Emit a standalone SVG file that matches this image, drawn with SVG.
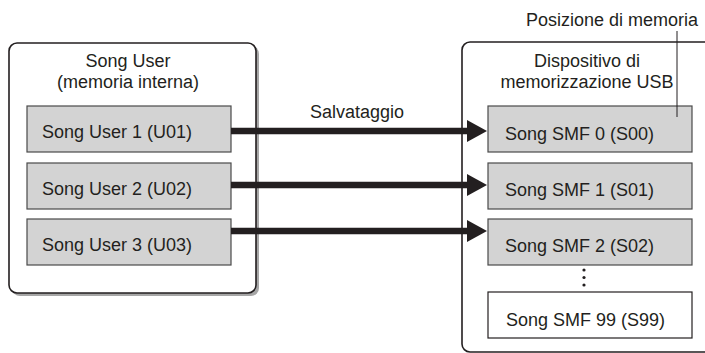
<svg xmlns="http://www.w3.org/2000/svg" width="705" height="353" viewBox="0 0 705 353">
<defs>
<style>
text{font-family:"Liberation Sans",Arial,sans-serif;font-size:18px;fill:#231f20}
.c{text-anchor:middle}
.cont{fill:#fff;stroke:#231f20;stroke-width:1.6}
.shadow{fill:#a6a6a6}
.g{fill:#d3d3d3;stroke:#4a4a4a;stroke-width:1.2}
.w{fill:#fff;stroke:#231f20;stroke-width:1.2}
.arr{stroke:#231f20;stroke-width:6.3;fill:none;marker-end:url(#ah)}
</style>
<marker id="ah" markerUnits="userSpaceOnUse" viewBox="0 0 20 22" refX="3" refY="11" markerWidth="20" markerHeight="22" orient="auto">
<path d="M0,0 L20,11 L0,22 z" fill="#231f20"/>
</marker>
</defs>
<rect width="705" height="353" fill="#fff"/>
<g id="song-user">
<rect class="shadow" x="12" y="46" width="247" height="250" rx="8"/>
<rect class="cont" x="9" y="43" width="247" height="250" rx="8"/>
<text class="c" x="128" y="67">Song User</text>
<text class="c" x="128" y="88">(memoria interna)</text>
</g>
<g id="u01"><rect class="g" x="27" y="106" width="204" height="46"/><text x="42" y="138">Song User 1 (U01)</text></g>
<g id="u02"><rect class="g" x="27" y="163" width="204" height="46"/><text x="42" y="195">Song User 2 (U02)</text></g>
<g id="u03"><rect class="g" x="27" y="219" width="204" height="46"/><text x="42" y="251">Song User 3 (U03)</text></g>
<g id="usb">
<rect class="cont" x="462" y="42" width="300" height="310" rx="8"/>
<text class="c" x="587" y="67">Dispositivo di</text>
<text class="c" x="587" y="88">memorizzazione USB</text>
</g>
<g id="s00"><rect class="g" x="488" y="106" width="204" height="46"/><text x="505" y="140">Song SMF 0 (S00)</text></g>
<g id="s01"><rect class="g" x="488" y="163" width="204" height="46"/><text x="505" y="196">Song SMF 1 (S01)</text></g>
<g id="s02"><rect class="g" x="488" y="219" width="204" height="46"/><text x="505" y="252">Song SMF 2 (S02)</text></g>
<g id="dots" fill="#231f20"><circle cx="584" cy="270" r="1.6"/><circle cx="584" cy="277.5" r="1.6"/><circle cx="584" cy="285" r="1.6"/></g>
<g id="s99"><rect class="w" x="488" y="292" width="204" height="46"/><text x="506" y="326">Song SMF 99 (S99)</text></g>
<g id="label"><text x="526" y="26">Posizione di memoria</text></g>
<g id="connectors">
<line x1="677" y1="31" x2="677" y2="117" stroke="#231f20" stroke-width="1"/>
<line class="arr" x1="231" y1="131" x2="470" y2="131"/>
<line class="arr" x1="231" y1="185" x2="470" y2="185"/>
<line class="arr" x1="231" y1="231" x2="470" y2="231"/>
<text class="c" x="357" y="118">Salvataggio</text>
</g>
</svg>
